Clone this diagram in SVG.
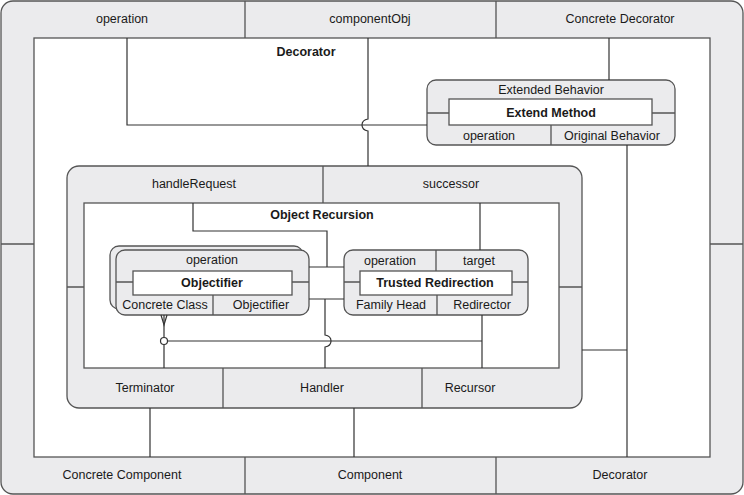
<svg xmlns="http://www.w3.org/2000/svg" width="744" height="495" viewBox="0 0 744 495">
<style>
.band{fill:#ebebed;stroke:#555;stroke-width:1.3}
.white{fill:#fff;stroke:#555;stroke-width:1.3}
.div{fill:none;stroke:#555;stroke-width:1.3}
.con{fill:none;stroke:#333;stroke-width:1.2}
text{font-family:"Liberation Sans",Arial,sans-serif;font-size:12.5px;fill:#1a1a1a;text-anchor:middle}
.b{font-weight:bold}
</style>
<g id="decorator-frame">
<rect class="band" x="1" y="1" width="742" height="493" rx="12"/>
<rect class="white" x="34" y="38" width="676" height="419"/>
<path class="div" d="M245 1V38M496 1V38M245 457V494M496 457V494M1 244H34M710 244H743"/>
<text x="122" y="23">operation</text>
<text x="370" y="23">componentObj</text>
<text x="620" y="23">Concrete Decorator</text>
<text x="122" y="479">Concrete Component</text>
<text x="370" y="479">Component</text>
<text x="620" y="479">Decorator</text>
<text class="b" x="306" y="56">Decorator</text>
</g>
<g id="extended-behavior">
<rect class="band" x="427" y="80" width="248" height="65" rx="9"/>
<rect class="white" x="449" y="99" width="203" height="26"/>
<path class="div" d="M427 113H449M652 113H675M551 125V145"/>
<text x="551" y="94">Extended Behavior</text>
<text class="b" x="551" y="117">Extend Method</text>
<text x="489" y="140">operation</text>
<text x="612" y="140">Original Behavior</text>
</g>
<g id="object-recursion">
<rect class="band" x="67" y="166" width="515" height="242" rx="12"/>
<rect class="white" x="84" y="203" width="475" height="165"/>
<path class="div" d="M323 166V203M223 368V408M422 368V408M67 287H84M559 287H582"/>
<text x="194" y="188">handleRequest</text>
<text x="451" y="188">successor</text>
<text x="145" y="392">Terminator</text>
<text x="322" y="392">Handler</text>
<text x="470" y="392">Recursor</text>
<text class="b" x="322" y="219">Object Recursion</text>
</g>
<g id="objectifier">
<rect class="band" x="110" y="246" width="193" height="63" rx="9"/>
<rect class="band" x="116" y="250" width="193" height="65" rx="9"/>
<rect class="white" x="133" y="271" width="159" height="24"/>
<path class="div" d="M116 282H133M292 282H309M213 295V315"/>
<text x="212" y="264">operation</text>
<text class="b" x="212" y="287">Objectifier</text>
<text x="165" y="309">Concrete Class</text>
<text x="261" y="309">Objectifier</text>
</g>
<g id="trusted-redirection">
<rect class="band" x="344" y="250" width="184" height="65" rx="9"/>
<rect class="white" x="360" y="271" width="152" height="24"/>
<path class="div" d="M344 282H360M512 282H528M436 250V271M437 295V315"/>
<text x="390" y="265">operation</text>
<text x="479" y="265">target</text>
<text class="b" x="435" y="287">Trusted Redirection</text>
<text x="391" y="309">Family Head</text>
<text x="482" y="309">Redirector</text>
</g>
<g id="connectors">
<path class="con" d="M127 38V125H427"/>
<path class="con" d="M368 38V119Q362 120 362 125Q362 130 368 131V166"/>
<path class="con" d="M609 38V80"/>
<path class="con" d="M627 145V457"/>
<path class="con" d="M582 350H627"/>
<path class="con" d="M193 203V231H327V267"/>
<path class="con" d="M309 267H344M309 299H344"/>
<path class="con" d="M325 299V335Q331 336 331 341Q331 346 325 347V368"/>
<path class="con" d="M480 203V250"/>
<path class="con" d="M482 315V368"/>
<path class="con" d="M167.5 341H482"/>
<path class="con" d="M164 315V337.5M164 344.5V368"/>
<circle class="con" cx="164" cy="341" r="3.5"/>
<path class="con" d="M161 315L164 325L167 315"/>
<path class="con" d="M150 408V457M354 408V457"/>
</g>
</svg>
